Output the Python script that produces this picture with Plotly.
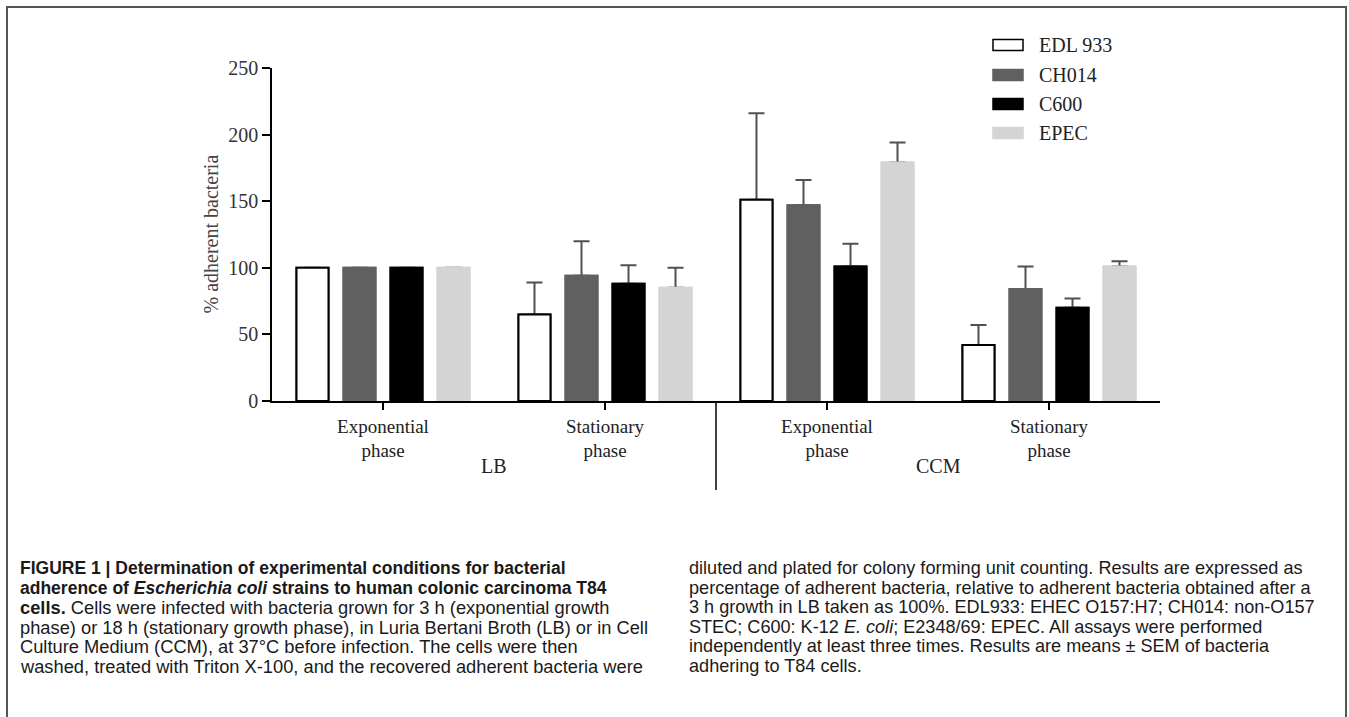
import plotly.graph_objects as go

# ---------------- data ----------------
group_labels = ["Exponential<br>phase", "Stationary<br>phase", "Exponential<br>phase", "Stationary<br>phase"]
group_pos = [0, 1, 2, 3]
media_labels = ["LB", "CCM"]
media_pos = [0.5, 2.5]
strains = ["EDL 933", "CH014", "C600", "EPEC"]

edl933 = [100, 65, 151, 42]
ch014 = [100, 94, 147, 84]
c600 = [100, 88, 101, 70]
epec = [100, 85, 179, 101]

edl933_err = [None, 24, 65, 15]
ch014_err = [None, 26, 19, 17]
c600_err = [None, 14, 17, 7]
epec_err = [None, 15, 15, 4]

y_ticks = [0, 50, 100, 150, 200, 250]

caption_left = [
    "<b>FIGURE 1 | Determination of experimental conditions for bacterial</b>",
    "<b>adherence of <i>Escherichia coli</i> strains to human colonic carcinoma T84</b>",
    "<b>cells.</b> Cells were infected with bacteria grown for 3 h (exponential growth",
    "phase) or 18 h (stationary growth phase), in Luria Bertani Broth (LB) or in Cell",
    "Culture Medium (CCM), at 37°C before infection. The cells were then",
    "washed, treated with Triton X-100, and the recovered adherent bacteria were",
]
caption_right = [
    "diluted and plated for colony forming unit counting. Results are expressed as",
    "percentage of adherent bacteria, relative to adherent bacteria obtained after a",
    "3 h growth in LB taken as 100%. EDL933: EHEC O157:H7; CH014: non-O157",
    "STEC; C600: K-12 <i>E. coli</i>; E2348/69: EPEC. All assays were performed",
    "independently at least three times. Results are means ± SEM of bacteria",
    "adhering to T84 cells.",
]

# ---------------- style ----------------
W, H = 1349, 717
L, R, T, B = 272, 1160, 68, 401  # plot area in pixels
SERIF = "Liberation Serif"
SANS = "Liberation Sans"

def px(X):
    return (X - L) / (R - L)

def py(Y):
    return (B - Y) / (B - T)

series = [
    (strains[0], edl933, edl933_err, "#ffffff", "#000000", 2),
    (strains[1], ch014, ch014_err, "#606060", "#606060", 2),
    (strains[2], c600, c600_err, "#000000", "#000000", 2),
    (strains[3], epec, epec_err, "#d4d4d4", "#d4d4d4", 2),
]

fig = go.Figure()
for name, vals, errs, fill, edge, lw in series:
    fig.add_trace(go.Bar(
        x=group_pos, y=vals, name=name, showlegend=False,
        marker=dict(color=fill, line=dict(color=edge, width=lw)),
        error_y=dict(type="data", symmetric=False, array=errs,
                     arrayminus=[0 if e is not None else None for e in errs],
                     color="#505050", thickness=2, width=8),
        xaxis="x", yaxis="y", hoverinfo="skip",
    ))
for name, vals, errs, fill, edge, lw in series:
    fig.add_trace(go.Bar(
        x=group_pos, y=vals, name=name, showlegend=False,
        marker=dict(color=fill, line=dict(color=edge, width=lw)),
        xaxis="x2", yaxis="y", hoverinfo="skip",
    ))

shapes = []
annotations = []

shapes.append(dict(type="line", xref="x", yref="paper", x0=1.5, x1=1.5,
                   y0=0, y1=py(490), line=dict(color="#000000", width=1.5)))

for lab, pos in zip(media_labels, media_pos):
    annotations.append(dict(x=pos, xref="x", y=py(466), yref="paper", text=lab,
                            showarrow=False, font=dict(family=SERIF, size=20, color="#222"),
                            xanchor="center", yanchor="middle"))

annotations.append(dict(x=px(210), xref="paper", y=0.5, yref="paper",
                        text="% adherent bacteria", textangle=-90, showarrow=False,
                        font=dict(family=SERIF, size=20, color="#444"),
                        xanchor="center", yanchor="middle"))

legend_rows = [45, 75, 104, 133]
for (name, vals, errs, fill, edge, lw), yy in zip(series, legend_rows):
    shapes.append(dict(type="rect", xref="paper", yref="paper",
                       x0=px(993), x1=px(1023), y0=py(yy + 5.5), y1=py(yy - 5.5),
                       fillcolor=fill, line=dict(color=edge, width=1.5)))
    annotations.append(dict(x=px(1037), xref="paper", y=py(yy), yref="paper", text=name,
                            showarrow=False, font=dict(family=SERIF, size=20, color="#222"),
                            xanchor="left", yanchor="middle"))

shapes.append(dict(type="path", xref="paper", yref="paper",
                   path=f"M {px(7)},{py(725)} L {px(7)},{py(7)} L {px(1346)},{py(7)} L {px(1346)},{py(725)}",
                   line=dict(color="#555555", width=2)))

cap_ys = [568, 588, 607, 627, 646, 666]
left_sizes = [17.5, 17.5, 18.3, 18.3, 18.3, 18.3]
for txt, yy, fs in zip(caption_left, cap_ys, left_sizes):
    annotations.append(dict(x=px(18), xref="paper", y=py(yy), yref="paper", text=txt,
                            showarrow=False, font=dict(family=SANS, size=fs, color="#1a1a1a"),
                            xanchor="left", yanchor="middle"))
for txt, yy in zip(caption_right, cap_ys):
    annotations.append(dict(x=px(687), xref="paper", y=py(yy), yref="paper", text=txt,
                            showarrow=False, font=dict(family=SANS, size=18.1, color="#1a1a1a"),
                            xanchor="left", yanchor="middle"))

fig.update_layout(
    width=W, height=H,
    margin=dict(l=L, r=W - R, t=T, b=H - B, pad=0),
    paper_bgcolor="#ffffff", plot_bgcolor="#ffffff",
    barmode="group", bargap=0.153, bargroupgap=0.32,
    showlegend=False,
    xaxis=dict(range=[-0.5, 3.5], tickmode="array", tickvals=group_pos, ticktext=group_labels,
               ticks="outside", ticklen=7, tickwidth=1.5, tickcolor="#000",
               showline=True, linecolor="#000", linewidth=1.5, showgrid=False, zeroline=False,
               tickfont=dict(family=SERIF, size=19, color="#222"), fixedrange=True),
    xaxis2=dict(range=[-0.5, 3.5], overlaying="x", visible=False, fixedrange=True),
    yaxis=dict(range=[0, 250], tickmode="array", tickvals=y_ticks,
               ticks="outside", ticklen=8, tickwidth=1.5, tickcolor="#000",
               showline=True, linecolor="#000", linewidth=1.5, showgrid=False, zeroline=False,
               tickfont=dict(family=SERIF, size=20, color="#333"), fixedrange=True),
    shapes=shapes, annotations=annotations,
)

fig.write_html("out.html")
